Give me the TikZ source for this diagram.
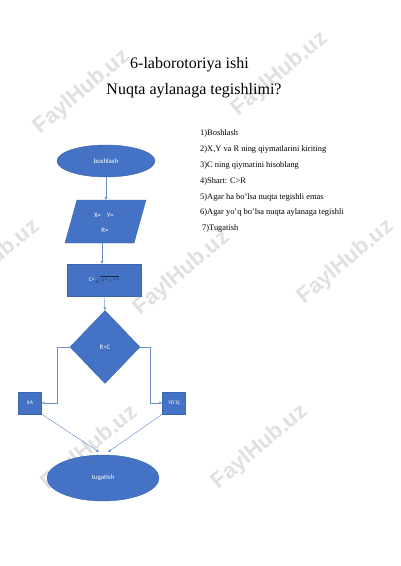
\documentclass[tikz,border=0pt]{standalone}
\usepackage{fontspec}
\setmainfont{Liberation Serif}
\newfontfamily\calib{Carlito}
\newfontfamily\wmfont{Liberation Sans}
\usetikzlibrary{shapes.geometric,arrows.meta}
\definecolor{obl}{HTML}{4472C4}
\definecolor{obd}{HTML}{3A64AE}
\definecolor{conn}{HTML}{6A8CC8}
\definecolor{wm}{HTML}{E0E0E0}
\definecolor{fdark}{HTML}{1A2440}
\begin{document}
\begin{tikzpicture}[x=1pt,y=-1pt,
  shapebox/.style={fill=obl,draw=obd,line width=0.4pt,text=white,font=\calib\fontsize{6.8}{7}\selectfont,inner sep=0pt},
  conline/.style={draw=conn,line width=0.45pt},
  arr/.style={conline,-{Triangle[length=3pt,width=2.6pt]}},
  wmark/.style={text=wm,font=\wmfont\bfseries\fontsize{22}{24}\selectfont,rotate=40},
  steptext/.style={anchor=west,font=\fontsize{8.4}{9}\selectfont,inner sep=0pt}]
\useasboundingbox (0,0) rectangle (400,566);
\fill[white] (0,0) rectangle (400,566);
% watermarks
\node[wmark] (w1) at (82,92) {FaylHub.uz};
\node[wmark] (w2) at (280,74) {FaylHub.uz};
\node[wmark] (w3) at (-8,262) {FaylHub.uz};
\node[wmark] (w4) at (182,273) {FaylHub.uz};
\node[wmark] (w5) at (346,262) {FaylHub.uz};
\node[wmark] (w6) at (90,448) {FaylHub.uz};
\node[wmark] (w7) at (260,447) {FaylHub.uz};
% titles
\node[font=\fontsize{16}{18}\selectfont] (t1) at (189.5,65) {6-laborotoriya ishi};
\node[font=\fontsize{16}{18}\selectfont] (t2) at (194,91) {Nuqta aylanaga tegishlimi?};
% steps
\node[steptext] (s1) at (200,133) {1)Boshlash};
\node[steptext] (s2) at (200,149) {2)X,Y va R ning qiymatlarini kiriting};
\node[steptext] (s3) at (200,165) {3)C ning qiymatini hisoblang};
\node[steptext] (s4) at (200,181) {4)Shart: C>R};
\node[steptext] (s5) at (200,197) {5)Agar ha bo'lsa nuqta tegishli emas};
\node[steptext] (s6) at (200,212) {6)Agar yo'q bo'lsa nuqta aylanaga tegishli};
\node[steptext] (s7) at (202,228) {7)Tugatish};
% flowchart
\node[shapebox,ellipse,minimum width=98pt,minimum height=32pt] (start) at (106,161) {boshlash};
\path[shapebox] (77,200) -- (146,200) -- (134,243) -- (65,243) -- cycle;
\coordinate (inT) at (106,200);
\coordinate (inB) at (102,243);
\node[text=white,font=\calib\fontsize{6.8}{7}\selectfont] (in1) at (104,215) {X=\hspace{6pt}Y=};
\node[text=white,font=\calib\fontsize{6.8}{7}\selectfont] (in2) at (105,230) {R=};
\node[shapebox,rectangle,minimum width=74pt,minimum height=32pt,font=\calib\fontsize{6}{7}\selectfont] (calc) at (104,280) {C=\textcolor{fdark}{\scalebox{0.62}{$\sqrt{X^2+Y^2}$}}};
\node[shapebox,diamond,minimum width=70pt,minimum height=73pt,aspect=0.96] (cond) at (105,347) {R>C};
\node[shapebox,rectangle,minimum width=23pt,minimum height=22pt,font=\calib\fontsize{5.5}{6}\selectfont] (ha) at (30,403) {XA};
\node[shapebox,rectangle,minimum width=23pt,minimum height=22pt,font=\calib\fontsize{5.5}{6}\selectfont] (yoq) at (174,403) {YO'Q};
\node[shapebox,ellipse,minimum width=112pt,minimum height=46pt] (end) at (103,478) {tugatish};
% connectors
\draw[arr] (start.south) -- (inT);
\draw[arr] (inB) -- (calc.north -| inB);
\draw[arr] (calc.south) -- (cond.north);
\draw[arr] (cond.west) -| (57,403) -- (ha.east);
\draw[arr] (cond.east) -| (150,403) -- (yoq.west);
\draw[arr] (ha.south east) -- (99,452);
\draw[arr] (yoq.south west) -- (108,452);
\end{tikzpicture}
\end{document}
